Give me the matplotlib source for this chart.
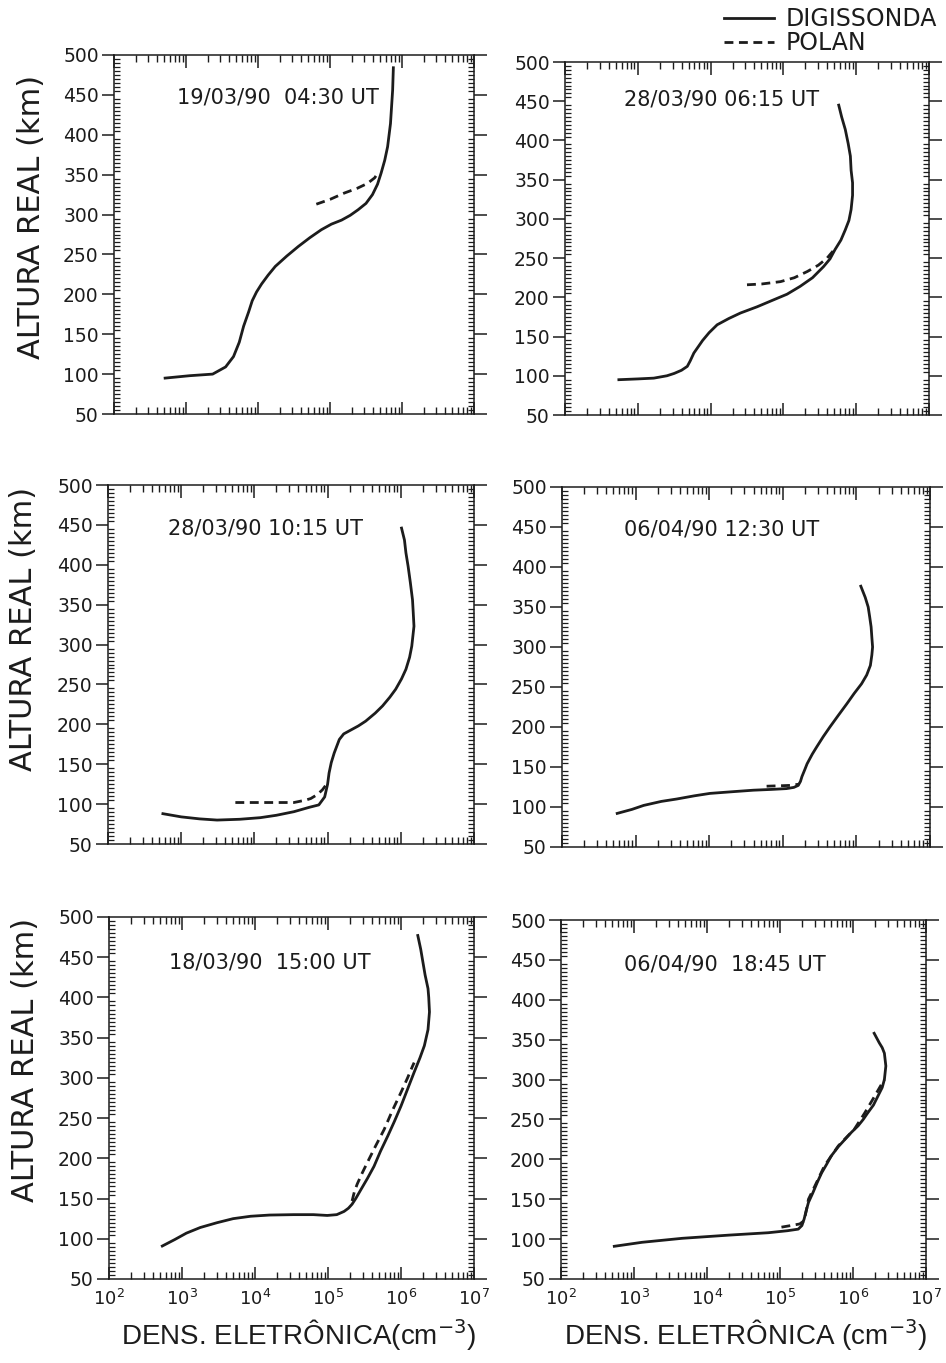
import numpy as np
import matplotlib
matplotlib.use('Agg')
import matplotlib.pyplot as plt
from matplotlib.ticker import MultipleLocator, LogLocator, NullFormatter

plt.rcParams['font.family'] = ['DejaVu Sans']
plt.rcParams['mathtext.fontset'] = 'dejavusans'

# valores: log10 da densidade (cm-3) e altura real (km)
# 19/03/90 04:30 UT
p1_dig_logn = [2.71, 3.05, 3.37, 3.55, 3.66, 3.74, 3.80, 3.87, 3.92, 3.98, 4.05, 4.14, 4.24, 4.40,
               4.56, 4.72, 4.88, 5.02, 5.16, 5.28, 5.39, 5.50, 5.59, 5.66, 5.71, 5.76, 5.80, 5.84,
               5.87, 5.88]
p1_dig_h = [95, 98, 100, 109, 122, 140, 160, 178, 192, 203, 213, 224, 235, 248,
            260, 271, 281, 288, 293, 299, 306, 314, 325, 338, 352, 368, 385, 414,
            456, 484]
p1_pol_logn = [4.81, 5.00, 5.20, 5.38, 5.52, 5.62, 5.68]
p1_pol_h = [313, 319, 327, 333, 339, 346, 354]

# 28/03/90 06:15 UT
p2_dig_logn = [2.74, 3.00, 3.22, 3.40, 3.50, 3.60, 3.68, 3.72, 3.77, 3.83, 3.89, 3.98, 4.09, 4.25,
               4.41, 4.64, 4.87, 5.05, 5.23, 5.40, 5.55, 5.64, 5.71, 5.79, 5.85, 5.90, 5.93, 5.95,
               5.95, 5.93, 5.92, 5.89, 5.85, 5.80, 5.76]
p2_dig_h = [95, 96, 97, 100, 103, 107, 112, 119, 129, 137, 145, 155, 165, 173,
            180, 188, 197, 204, 214, 225, 239, 249, 261, 273, 286, 298, 312, 330,
            346, 362, 380, 396, 414, 430, 445]
p2_pol_logn = [4.50, 4.70, 4.96, 5.15, 5.33, 5.48, 5.60, 5.70]
p2_pol_h = [216, 217, 220, 225, 233, 241, 250, 261]

# 28/03/90 10:15 UT
p3_dig_logn = [2.75, 3.00, 3.25, 3.49, 3.80, 4.08, 4.30, 4.54, 4.75, 4.88, 4.96, 5.00, 5.02, 5.05,
               5.09, 5.16, 5.22, 5.30, 5.42, 5.52, 5.65, 5.75, 5.85, 5.93, 6.01, 6.07, 6.12, 6.15,
               6.18, 6.17, 6.16, 6.13, 6.10, 6.07, 6.05, 6.01]
p3_dig_h = [88, 84, 81.5, 80, 81, 83, 86, 90.5, 96, 99, 109, 125, 139, 152,
            164, 181, 188, 192, 198, 204, 214, 223, 234, 244, 257, 269, 284, 298,
            323, 340, 356, 378, 398, 415, 431, 446]
p3_pol_logn = [3.74, 4.10, 4.54, 4.70, 4.77, 4.86, 4.93, 4.97]
p3_pol_h = [102, 102, 102, 105, 107, 112, 118, 123]

# 06/04/90 12:30 UT
p4_dig_logn = [2.75, 2.95, 3.11, 3.35, 3.56, 3.80, 4.01, 4.30, 4.60, 4.85, 5.05, 5.15, 5.21, 5.24,
               5.26, 5.30, 5.33, 5.40, 5.46, 5.55, 5.64, 5.75, 5.87, 5.97, 6.07, 6.14, 6.19, 6.21,
               6.22, 6.21, 6.20, 6.18, 6.16, 6.12, 6.06]
p4_dig_h = [92, 97, 102, 107, 110, 114, 117, 119, 121, 122, 123, 124.5, 127, 132,
            138, 147, 154, 166, 175, 188, 200, 214, 229, 242, 254, 265, 277, 290,
            300, 312, 325, 338, 350, 362, 376]
p4_pol_logn = [4.78, 4.95, 5.10, 5.22]
p4_pol_h = [126, 126.5, 127, 128.5]

# 18/03/90 15:00 UT
p5_dig_logn = [2.73, 2.90, 3.06, 3.25, 3.48, 3.70, 3.94, 4.20, 4.53, 4.80, 4.99, 5.12, 5.22, 5.28,
               5.33, 5.38, 5.45, 5.54, 5.63, 5.72, 5.82, 5.91, 6.00, 6.09, 6.18, 6.26, 6.32, 6.37,
               6.39, 6.38, 6.37, 6.33, 6.30, 6.27, 6.23]
p5_dig_h = [91, 99, 107, 114, 120, 125, 128, 129.5, 130, 130, 129, 130, 134, 138,
            143, 150, 161, 175, 190, 209, 228, 246, 265, 286, 307, 325, 340, 360,
            382, 400, 411, 428, 444, 460, 477]
p5_pol_logn = [5.33, 5.36, 5.40, 5.47, 5.54, 5.65, 5.77, 5.88, 6.00, 6.09, 6.16, 6.18]
p5_pol_h = [147, 158, 168, 182, 195, 215, 236, 259, 282, 300, 315, 319]

# 06/04/90 18:45 UT
p6_dig_logn = [2.73, 3.11, 3.66, 4.30, 4.84, 5.10, 5.25, 5.30, 5.33, 5.36, 5.39, 5.45, 5.51, 5.57,
               5.64, 5.70, 5.80, 5.89, 5.98, 6.07, 6.14, 6.20, 6.28, 6.34, 6.40, 6.43, 6.45, 6.43,
               6.40, 6.36, 6.29]
p6_dig_h = [91, 96, 101, 105, 108, 110.5, 112.5, 117, 125, 136, 146, 158, 171, 183,
            194, 204, 216, 225, 234, 242, 250, 258, 268, 279, 290, 300, 317, 333,
            340, 346, 358]
p6_pol_logn = [5.02, 5.15, 5.27, 5.33, 5.37, 5.39, 5.48, 5.61, 5.80, 6.02, 6.16, 6.27, 6.39, 6.43]
p6_pol_h = [115, 117, 119, 123, 140, 150, 167, 192, 217, 238, 258, 275, 294, 300]

titles = ['19/03/90  04:30 UT', '28/03/90 06:15 UT', '28/03/90 10:15 UT',
          '06/04/90 12:30 UT', '18/03/90  15:00 UT', '06/04/90  18:45 UT']

panels = [(p1_dig_logn, p1_dig_h, p1_pol_logn, p1_pol_h),
          (p2_dig_logn, p2_dig_h, p2_pol_logn, p2_pol_h),
          (p3_dig_logn, p3_dig_h, p3_pol_logn, p3_pol_h),
          (p4_dig_logn, p4_dig_h, p4_pol_logn, p4_pol_h),
          (p5_dig_logn, p5_dig_h, p5_pol_logn, p5_pol_h),
          (p6_dig_logn, p6_dig_h, p6_pol_logn, p6_pol_h)]

# caixas dos graficos em pixels (esq, dir, topo, base) e posicao dos titulos
W, H = 946, 1363
boxes = [(114, 474, 55, 414), (565, 929, 62, 415),
         (108, 474, 485, 844), (562, 930, 487, 847),
         (109, 474, 917, 1279), (561, 926, 920, 1279)]
title_pos = [(0.456, 0.883), (0.431, 0.895), (0.429, 0.88),
             (0.435, 0.881), (0.441, 0.873), (0.449, 0.875)]

ink = '#1c1c1c'
fig = plt.figure(figsize=(W / 100, H / 100), dpi=100)

for i, (dlog, dh, plog, ph) in enumerate(panels):
    l, r, t, b = boxes[i]
    ax = fig.add_axes([l / W, 1 - b / H, (r - l) / W, (b - t) / H])
    l_dig, = ax.plot(10 ** np.array(dlog), dh, color=ink, lw=2.0, solid_joinstyle='round')
    l_pol, = ax.plot(10 ** np.array(plog), ph, color=ink, lw=2.0, dashes=(3.2, 2.0))
    if i == 0:
        leg_handles = [l_dig, l_pol]

    ax.set_xscale('log')
    ax.set_xlim(1e2, 1e7)
    ax.set_ylim(50, 500)
    ax.xaxis.set_major_locator(LogLocator(base=10, numticks=10))
    ax.xaxis.set_minor_locator(LogLocator(base=10, subs=np.arange(2, 10), numticks=10))
    ax.xaxis.set_minor_formatter(NullFormatter())
    ax.yaxis.set_major_locator(MultipleLocator(50))
    ax.yaxis.set_minor_locator(MultipleLocator(5))

    ax.tick_params(axis='x', which='major', direction='in', length=9, width=1.1,
                   top=True, labelsize=13, pad=7, colors=ink)
    ax.tick_params(axis='x', which='minor', direction='in', length=5, width=1.0, top=True, colors=ink)
    ax.tick_params(axis='y', which='major', direction='out', length=9, width=1.1,
                   right=True, labelsize=13.5, pad=2, colors=ink)
    ax.tick_params(axis='y', which='minor', direction='in', length=4, width=0.9, right=True, colors=ink)
    for s in ax.spines.values():
        s.set_linewidth(1.1)
        s.set_color(ink)

    if i < 4:
        ax.tick_params(labelbottom=False)
    ax.text(title_pos[i][0], title_pos[i][1], titles[i], transform=ax.transAxes,
            ha='center', va='center', fontsize=15, color=ink)

    if i % 2 == 0:
        ax.set_ylabel('ALTURA REAL (km)', fontsize=22, color=ink)
        ax.yaxis.set_label_coords(-0.19, [0.55, 0.60, 0.605][i // 2])
    if i == 4:
        ax.set_xlabel(r'DENS. ELETRÔNICA(cm$^{-3}$)', fontsize=20, color=ink, labelpad=7,
                      family='Liberation Sans')
        ax.xaxis.set_label_coords(0.52, -0.105)
    if i == 5:
        ax.set_xlabel(r'DENS. ELETRÔNICA (cm$^{-3}$)', fontsize=20, color=ink, labelpad=7,
                      family='Liberation Sans')
        ax.xaxis.set_label_coords(0.505, -0.105)

fig.legend(leg_handles, ['DIGISSONDA', 'POLAN'], loc='upper left',
           bbox_to_anchor=(724 / W, 1 - 7 / H), frameon=False, fontsize=17,
           handlelength=2.1, handletextpad=0.5, labelspacing=0.0,
           borderpad=0, borderaxespad=0, labelcolor=ink)

fig.savefig('out.png', dpi=100, facecolor='white')
